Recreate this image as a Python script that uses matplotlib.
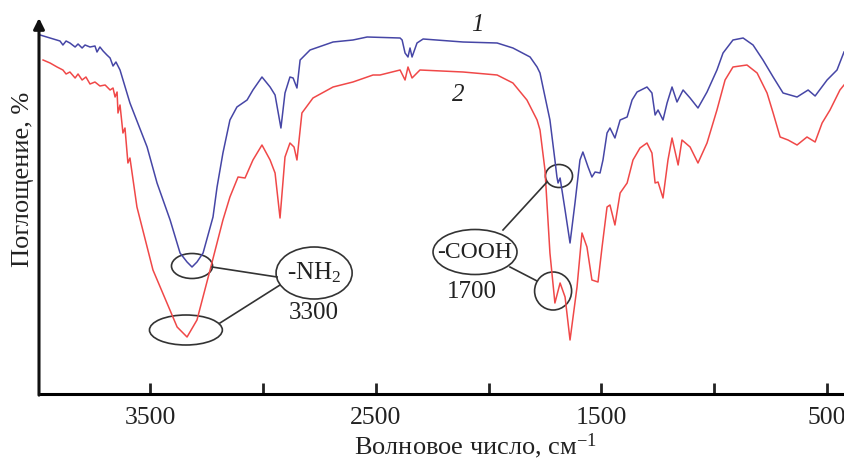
import matplotlib.pyplot as plt
import numpy as np
from matplotlib.patches import Ellipse

plt.rcParams['font.family'] = ['Liberation Serif', 'DejaVu Serif']
plt.rcParams['mathtext.fontset'] = 'custom'
plt.rcParams['mathtext.rm'] = 'Liberation Serif'
plt.rcParams['mathtext.it'] = 'Liberation Serif:italic'

# ИК-спектры (волновое число, см-1; поглощение, отн. ед.)
wn_1 = [3987, 3943, 3899, 3886, 3872, 3855, 3832, 3819, 3801, 3788, 3766, 3744, 3735, 3722,
        3708, 3691, 3677, 3664, 3651, 3633, 3589, 3513, 3469, 3411, 3367, 3336, 3314, 3292,
        3265, 3221, 3203, 3177, 3146, 3115, 3070, 3044, 3004, 2968, 2946, 2920, 2902, 2880,
        2866, 2849, 2835, 2791, 2689, 2601, 2538, 2392, 2383, 2370, 2357, 2348, 2339, 2317,
        2290, 2113, 1962, 1892, 1816, 1785, 1772, 1759, 1728, 1706, 1697, 1692, 1683, 1661,
        1639, 1617, 1595, 1582, 1559, 1542, 1528, 1506, 1493, 1475, 1462, 1440, 1417, 1386,
        1364, 1342, 1298, 1276, 1262, 1249, 1227, 1209, 1187, 1165, 1138, 1107, 1072, 1032,
        988, 961, 917, 872, 828, 784, 739, 695, 633, 584, 553, 500, 456, 425]
abs_1 = [359, 356, 353, 349, 353, 351, 347, 350, 346, 349, 347, 348, 342, 347,
         343, 339, 336, 328, 332, 324, 291, 247, 211, 174, 141, 132, 127, 132,
         141, 177, 207, 241, 274, 287, 294, 304, 317, 307, 299, 266, 301, 317,
         316, 306, 334, 344, 352, 354, 357, 356, 354, 341, 337, 346, 337, 351,
         355, 352, 351, 346, 337, 327, 321, 307, 274, 234, 217, 211, 216, 184,
         151, 191, 234, 242, 227, 217, 222, 221, 234, 261, 266, 256, 274, 277,
         294, 302, 307, 301, 279, 284, 274, 291, 307, 292, 304, 296, 286, 302,
         324, 341, 354, 356, 349, 334, 317, 301, 297, 304, 298, 314, 324, 342]

wn_2 = [3974, 3943, 3912, 3886, 3872, 3855, 3832, 3819, 3801, 3784, 3766, 3744, 3722, 3699,
        3677, 3664, 3655, 3646, 3642, 3633, 3620, 3611, 3598, 3589, 3558, 3487, 3425, 3380,
        3336, 3292, 3234, 3177, 3146, 3110, 3079, 3044, 3004, 2968, 2946, 2924, 2902, 2880,
        2862, 2849, 2827, 2778, 2689, 2601, 2512, 2481, 2392, 2370, 2357, 2339, 2304, 2113,
        1962, 1892, 1830, 1785, 1772, 1750, 1728, 1706, 1683, 1661, 1639, 1608, 1586, 1564,
        1542, 1515, 1497, 1475, 1462, 1440, 1417, 1386, 1360, 1329, 1298, 1276, 1262, 1249,
        1227, 1205, 1187, 1160, 1143, 1107, 1072, 1032, 988, 952, 917, 855, 810, 766,
        739, 708, 673, 633, 589, 553, 522, 487, 443, 425]
abs_2 = [334, 331, 327, 324, 320, 322, 316, 320, 314, 317, 310, 312, 308, 309,
         304, 306, 297, 302, 281, 289, 261, 266, 231, 236, 187, 124, 91, 67,
         57, 74, 124, 174, 197, 217, 216, 234, 249, 234, 221, 176, 237, 251,
         247, 234, 281, 296, 307, 312, 319, 319, 324, 314, 327, 316, 324, 322,
         319, 311, 294, 274, 264, 224, 141, 91, 111, 97, 54, 107, 161, 147,
         114, 112, 147, 187, 189, 169, 201, 211, 234, 246, 251, 241, 211, 212,
         196, 234, 256, 229, 254, 247, 231, 251, 284, 314, 327, 329, 321, 301,
         281, 257, 254, 249, 257, 252, 271, 284, 304, 309]

tick_pos = [3500, 3000, 2500, 2000, 1500, 1000, 500]
tick_lab = ['3500', '', '2500', '', '1500', '', '500']

fig = plt.figure(figsize=(8.44, 4.62), dpi=100)
ax = fig.add_axes([39 / 844, 68 / 462, 805 / 844, 376 / 462])

ax.plot(wn_1, abs_1, color='#4646a6', lw=1.1)
ax.plot(wn_2, abs_2, color='#f04848', lw=1.1)

ax.set_xlim(3992, 425)
ax.set_ylim(0, 376)

for s in ['top', 'right', 'left']:
    ax.spines[s].set_visible(False)
ax.spines['bottom'].set_linewidth(2.2)
ax.annotate('', xy=(0, 1.0), xytext=(0, -0.003), xycoords='axes fraction',
            arrowprops=dict(arrowstyle='-|>', lw=2.2, color='#111111', mutation_scale=16,
                            shrinkA=0, shrinkB=0))

ax.set_xticks(tick_pos)
ax.set_xticklabels(tick_lab)
ax.set_yticks([])
ax.tick_params(axis='x', direction='in', length=8, width=2, pad=9, labelsize=18.5,
               colors='#222222')

ax.set_xlabel('Волновое число, см$^{-1}$', fontsize=19, color='#222222')
ax.xaxis.set_label_coords(0.542, -0.1)
ax.set_ylabel('Поглощение, %', fontsize=19, color='#222222')
ax.yaxis.set_label_coords(-0.006, 0.57)

# номера кривых
ax.text(2051, 369, '1', fontsize=18, style='italic', ha='center', va='center', color='#222222')
ax.text(2135, 299, '2', fontsize=18, style='italic', ha='center', va='center', color='#222222')

# выноски
ec = '#333333'
ellipses = [(3314, 128, 182, 25), (3341, 64, 323, 30), (2773, 121, 337, 52),
            (2060, 142, 372, 45), (1688, 218, 120, 23), (1714, 103, 164, 38)]
for cx, cy, w, h in ellipses:
    ax.add_patch(Ellipse((cx, cy), w, h, fill=False, ec=ec, lw=1.2))

lines = [((3225, 127), (2937, 117)), ((3190, 71), (2924, 109)),
         ((1936, 164), (1741, 212)), ((1905, 127), (1785, 113))]
for (x1, y1), (x2, y2) in lines:
    ax.plot([x1, x2], [y1, y2], color=ec, lw=1.2)

ax.text(2773, 121, '-NH$_\\mathrm{2}$', fontsize=18, ha='center', va='center', color='#222222')
ax.text(2773, 81, '3300', fontsize=18, ha='center', va='center', color='#222222')
ax.text(2060, 142, '-COOH', fontsize=17, ha='center', va='center', color='#222222')
ax.text(2073, 102, '1700', fontsize=18, ha='center', va='center', color='#222222')

plt.savefig('out.png', dpi=100)
